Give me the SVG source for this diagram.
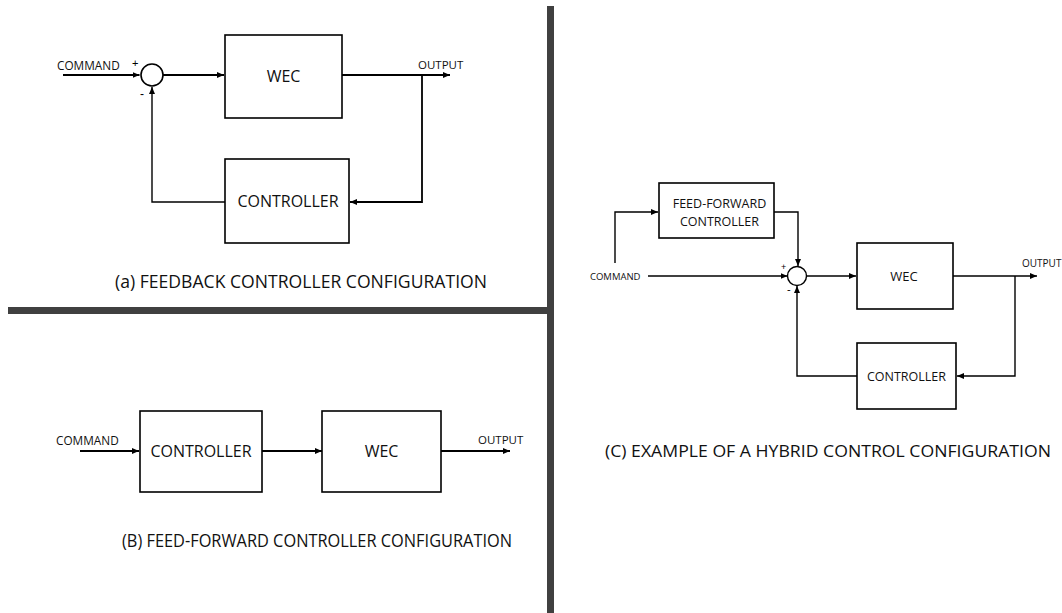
<svg xmlns="http://www.w3.org/2000/svg" width="1062" height="613" viewBox="0 0 1062 613">
<defs>
<marker id="ah" markerUnits="userSpaceOnUse" markerWidth="8" markerHeight="6" refX="7" refY="3" orient="auto">
<path d="M0,0 L7,3 L0,6 z" fill="#000"/>
</marker>
<style>
.box{fill:#fff;stroke:#000;stroke-width:1.6}
.ln{fill:none;stroke:#000;stroke-width:1.8}
.lc{fill:none;stroke:#000;stroke-width:1.4}
.t{font-family:"Open Sans","Liberation Sans",sans-serif;fill:#111}
.m{text-anchor:middle}
.s{font-family:"Liberation Sans",sans-serif;fill:#000}
</style>
</defs>
<rect width="1062" height="613" fill="#fff"/>
<g id="dividers" fill="#404040">
<rect x="8" y="307" width="541" height="7"/>
<rect x="547" y="6" width="7" height="607"/>
</g>

<g id="connectors">
<path class="ln" d="M63,75 H139.5" marker-end="url(#ah)"/>
<path class="ln" d="M163,75 H224" marker-end="url(#ah)"/>
<path class="ln" d="M342,75 H450" marker-end="url(#ah)"/>
<path class="ln" d="M422,75 V202 H350" marker-end="url(#ah)"/>
<path class="lc" d="M225,202 H152 V87" marker-end="url(#ah)"/>
<path class="ln" d="M80,451 H139" marker-end="url(#ah)"/>
<path class="ln" d="M262,451 H322" marker-end="url(#ah)"/>
<path class="ln" d="M441,451 H510" marker-end="url(#ah)"/>
<path class="lc" d="M615,263 V212 H658" marker-end="url(#ah)"/>
<path class="lc" d="M774,212 H798 V266" marker-end="url(#ah)"/>
<path class="lc" d="M648,276 H787.5" marker-end="url(#ah)"/>
<path class="lc" d="M807,276 H856" marker-end="url(#ah)"/>
<path class="lc" d="M953,276 H1037" marker-end="url(#ah)"/>
<path class="lc" d="M1015,276 V376 H957" marker-end="url(#ah)"/>
<path class="lc" d="M857,376 H797 V286" marker-end="url(#ah)"/>
</g>

<g id="a-sum">
<circle cx="152" cy="75" r="11" fill="#fff" stroke="#000" stroke-width="1.6"/>
<text class="s" x="132" y="67" font-size="11">+</text>
<text class="s" x="140" y="98" font-size="12">-</text>
</g>
<g id="a-command"><text class="t" x="57" y="69.5" font-size="11.8">COMMAND</text></g>
<g id="a-output"><text class="t" x="418" y="69" font-size="11.5">OUTPUT</text></g>
<g id="a-wec">
<rect class="box" x="225" y="35" width="117" height="83"/>
<text class="t m" x="283.5" y="82" font-size="16">WEC</text>
</g>
<g id="a-controller">
<rect class="box" x="225" y="159" width="124" height="84"/>
<text class="t m" x="288" y="207" font-size="16">CONTROLLER</text>
</g>
<g id="a-caption"><text class="t" x="115" y="288" font-size="17.5" textLength="372" lengthAdjust="spacingAndGlyphs">(a) FEEDBACK CONTROLLER CONFIGURATION</text></g>

<g id="b-command"><text class="t" x="56" y="445" font-size="11.8">COMMAND</text></g>
<g id="b-controller">
<rect class="box" x="140" y="411" width="122" height="81"/>
<text class="t m" x="201" y="457" font-size="16">CONTROLLER</text>
</g>
<g id="b-wec">
<rect class="box" x="322" y="411" width="119" height="81"/>
<text class="t m" x="381.5" y="457" font-size="16">WEC</text>
</g>
<g id="b-output"><text class="t" x="478" y="444" font-size="11.5">OUTPUT</text></g>
<g id="b-caption"><text class="t" x="122" y="547" font-size="17.5" textLength="390" lengthAdjust="spacingAndGlyphs">(B) FEED-FORWARD CONTROLLER CONFIGURATION</text></g>

<g id="c-ff">
<rect class="box" x="659" y="183" width="115" height="55"/>
<text class="t m" x="719.5" y="208" font-size="12.5">FEED-FORWARD</text>
<text class="t m" x="719.5" y="226" font-size="12.5">CONTROLLER</text>
</g>
<g id="c-command"><text class="t" x="590" y="280" font-size="9.5">COMMAND</text></g>
<g id="c-sum">
<circle cx="797" cy="276" r="9.5" fill="#fff" stroke="#000" stroke-width="1.4"/>
<text class="s" x="781" y="270" font-size="9">+</text>
<text class="s" x="787" y="293" font-size="11">-</text>
</g>
<g id="c-wec">
<rect class="box" x="857" y="243" width="96" height="66"/>
<text class="t m" x="904" y="280.5" font-size="13">WEC</text>
</g>
<g id="c-output"><text class="t" x="1022" y="267" font-size="10">OUTPUT</text></g>
<g id="c-controller">
<rect class="box" x="857" y="343" width="99" height="66"/>
<text class="t m" x="906.5" y="380.5" font-size="12.5">CONTROLLER</text>
</g>
<g id="c-caption"><text class="t" x="605" y="457" font-size="17" textLength="446" lengthAdjust="spacingAndGlyphs">(C) EXAMPLE OF A HYBRID CONTROL CONFIGURATION</text></g>
</svg>
